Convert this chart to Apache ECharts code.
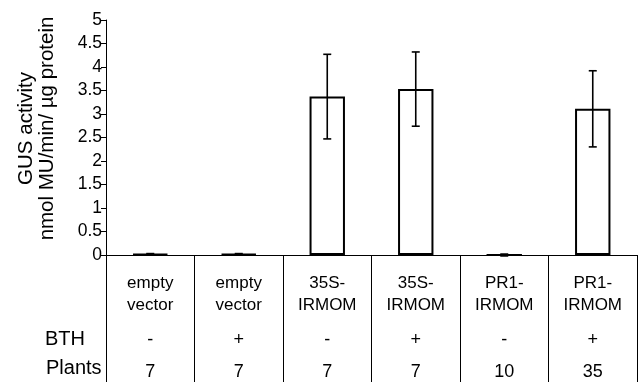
<!DOCTYPE html>
<html>
<head>
<meta charset="utf-8">
<script src="https://cdn.jsdelivr.net/npm/echarts@6/dist/echarts.min.js"></script>
<style>
html,body{margin:0;padding:0;background:#fff;}
#chart{width:641px;height:382px;}
</style>
</head>
<body>
<div id="chart"></div>
<script>
const categories = ['empty\nvector', 'empty\nvector', '35S-\nIRMOM', '35S-\nIRMOM', 'PR1-\nIRMOM', 'PR1-\nIRMOM'];
const bthRow = ['-', '+', '-', '+', '-', '+'];
const plantsRow = ['7', '7', '7', '7', '10', '35'];
const gusMeans = [0.02, 0.02, 3.37, 3.53, 0, 3.11];
const gusErrors = [0.01, 0.01, 0.9, 0.79, 0.02, 0.81];
const yTitle = 'GUS activity\nnmol MU/min/ µg protein';
const rowHeaders = ['BTH', 'Plants'];

const FONT = 'Liberation Sans, Arial, sans-serif';
const chart = echarts.init(document.getElementById('chart'), null, {renderer: 'canvas'});

const errData = gusMeans.map((m, i) => [i, m - gusErrors[i], m + gusErrors[i]]);

chart.setOption({
  animation: false,
  backgroundColor: '#fff',
  textStyle: {fontFamily: FONT, color: '#000'},
  grid: {left: 106, right: 4, top: 20, bottom: 127, containLabel: false},
  xAxis: {
    type: 'category',
    data: categories.map((c, i) => String(i)),
    boundaryGap: true,
    axisLine: {show: true, lineStyle: {color: '#000', width: 1}},
    axisTick: {show: true, interval: 0, length: 127, lineStyle: {color: '#000', width: 1}},
    axisLabel: {
      interval: 0,
      margin: 17,
      color: '#000',
      fontFamily: FONT,
      formatter: function (v, idx) {
        const parts = categories[idx].split('\n');
        return '{n|' + parts[0] + '}\n{n|' + parts[1] + '}\n{b|' + bthRow[idx] + '}\n{p|' + plantsRow[idx] + '}';
      },
      rich: {
        n: {fontSize: 17, lineHeight: 22, fontFamily: FONT, color: '#000'},
        b: {fontSize: 18, lineHeight: 48, fontFamily: FONT, color: '#000'},
        p: {fontSize: 18, lineHeight: 16, fontFamily: FONT, color: '#000'}
      }
    },
    splitLine: {show: false}
  },
  yAxis: {
    type: 'value',
    min: 0,
    max: 5,
    interval: 0.5,
    name: yTitle,
    nameLocation: 'middle',
    nameGap: 48,
    nameRotate: 90,
    nameTextStyle: {fontSize: 20.5, lineHeight: 21, fontFamily: FONT, color: '#000', padding: [0, 0, 0, 18]},
    axisLine: {show: true, lineStyle: {color: '#000', width: 1}},
    axisTick: {show: true, length: 5, lineStyle: {color: '#000', width: 1}},
    axisLabel: {fontSize: 17.5, margin: 4, color: '#000', fontFamily: FONT},
    splitLine: {show: false}
  },
  graphic: [
    {type: 'text', left: 45, top: 329, style: {text: rowHeaders[0], font: '20px ' + FONT, fill: '#000'}},
    {type: 'text', left: 46, top: 358, style: {text: rowHeaders[1], font: '20px ' + FONT, fill: '#000'}}
  ],
  series: [
    {
      type: 'bar',
      data: gusMeans,
      barWidth: '40%',
      itemStyle: {color: '#fff', borderColor: '#000', borderWidth: 2},
      z: 2
    },
    {
      type: 'custom',
      data: errData,
      z: 3,
      renderItem: function (params, api) {
        const x = api.value(0);
        const lo = api.coord([x, api.value(1)]);
        const hi = api.coord([x, api.value(2)]);
        const hw = 4;
        const style = {stroke: '#000', lineWidth: 1.6, fill: null};
        return {
          type: 'group',
          children: [
            {type: 'line', shape: {x1: lo[0], y1: lo[1], x2: hi[0], y2: hi[1]}, style: style},
            {type: 'line', shape: {x1: hi[0] - hw, y1: hi[1], x2: hi[0] + hw, y2: hi[1]}, style: style},
            {type: 'line', shape: {x1: lo[0] - hw, y1: lo[1], x2: lo[0] + hw, y2: lo[1]}, style: style}
          ]
        };
      }
    }
  ]
});
</script>
</body>
</html>
